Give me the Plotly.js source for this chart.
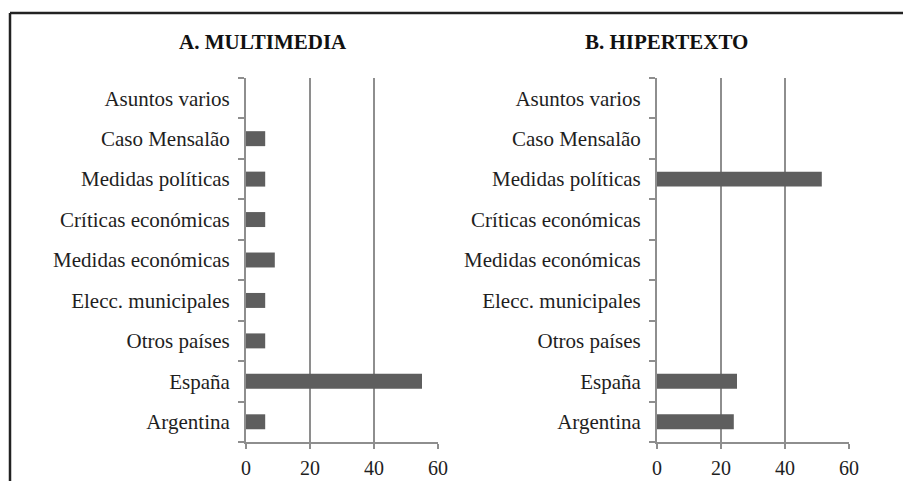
<!DOCTYPE html>
<html>
<head>
<meta charset="utf-8">
<script src="https://cdn.plot.ly/plotly-3.0.1.min.js"></script>
<style>html,body{margin:0;padding:0;background:#fff;}#chart{width:903px;height:481px;}</style>
</head>
<body>
<div id="chart"></div>
<script>
const categories = ["Argentina", "España", "Otros países", "Elecc. municipales", "Medidas económicas", "Críticas económicas", "Medidas políticas", "Caso Mensalão", "Asuntos varios"];
const multimediaValues = [6, 55, 6, 6, 9, 6, 6, 6, 0];
const hipertextoValues = [24, 25, 0, 0, 0, 0, 51.5, 0, 0];
const panelTitles = ["A. MULTIMEDIA", "B. HIPERTEXTO"];
const xTicks = [0, 20, 40, 60];

const FONT = "'Liberation Serif', 'DejaVu Serif', serif";
const barColor = "#5e5e5e";
const gridColor = "#8e8e8e";

const traces = [
  {type: "bar", orientation: "h", y: categories, x: multimediaValues, xaxis: "x", yaxis: "y",
   marker: {color: barColor}, hoverinfo: "x+y"},
  {type: "bar", orientation: "h", y: categories, x: hipertextoValues, xaxis: "x2", yaxis: "y2",
   marker: {color: barColor}, hoverinfo: "x+y"}
];

function xAxis(domain, anchor) {
  return {
    domain: domain, anchor: anchor, range: [0, 60], tickvals: xTicks, ticktext: xTicks.map(String),
    showgrid: true, gridcolor: gridColor, gridwidth: 2, zeroline: false,
    showline: true, linecolor: gridColor, linewidth: 2,
    ticks: "outside", ticklen: 5, tickwidth: 2, tickcolor: gridColor,
    ticklabelstandoff: 2,
    tickfont: {family: FONT, size: 20, color: "#1e1e1e"}, fixedrange: true
  };
}
function yAxis(anchor) {
  return {
    anchor: anchor, type: "category", categoryorder: "array", categoryarray: categories,
    range: [-0.5, categories.length - 0.5],
    showgrid: false, zeroline: false, showline: true, linecolor: gridColor, linewidth: 2,
    ticks: "outside", tickson: "boundaries", ticklen: 6, tickwidth: 2, tickcolor: gridColor,
    ticklabelstandoff: 10,
    tickfont: {family: FONT, size: 21, color: "#1e1e1e"}, fixedrange: true
  };
}

const layout = {
  width: 903, height: 481,
  margin: {l: 0, r: 0, t: 78, b: 39, pad: 0},
  paper_bgcolor: "#ffffff", plot_bgcolor: "#ffffff",
  showlegend: false, bargap: 0.63,
  font: {family: FONT},
  xaxis: xAxis([246/903, 438/903], "y"),
  yaxis: yAxis("x"),
  xaxis2: xAxis([657/903, 849/903], "y2"),
  yaxis2: yAxis("x2"),
  annotations: [
    {text: "<b>" + panelTitles[0] + "</b>", xref: "paper", yref: "paper", x: 262.5/903, y: 1 + (78-42)/364,
     xanchor: "center", yanchor: "middle", showarrow: false, font: {family: FONT, size: 21, color: "#111"}},
    {text: "<b>" + panelTitles[1] + "</b>", xref: "paper", yref: "paper", x: 666.5/903, y: 1 + (78-42)/364,
     xanchor: "center", yanchor: "middle", showarrow: false, font: {family: FONT, size: 21, color: "#111"}}
  ],
  shapes: [
    {type: "line", xref: "paper", yref: "paper", x0: 10/903, x1: 1.01, y0: 1 + (78-13)/364, y1: 1 + (78-13)/364,
     line: {color: "#222", width: 2.5}},
    {type: "line", xref: "paper", yref: "paper", x0: 10/903, x1: 10/903, y0: 1 + (78-13)/364, y1: -0.2,
     line: {color: "#222", width: 2.5}}
  ]
};

Plotly.newPlot("chart", traces, layout, {displayModeBar: false, staticPlot: true});
</script>
</body>
</html>
